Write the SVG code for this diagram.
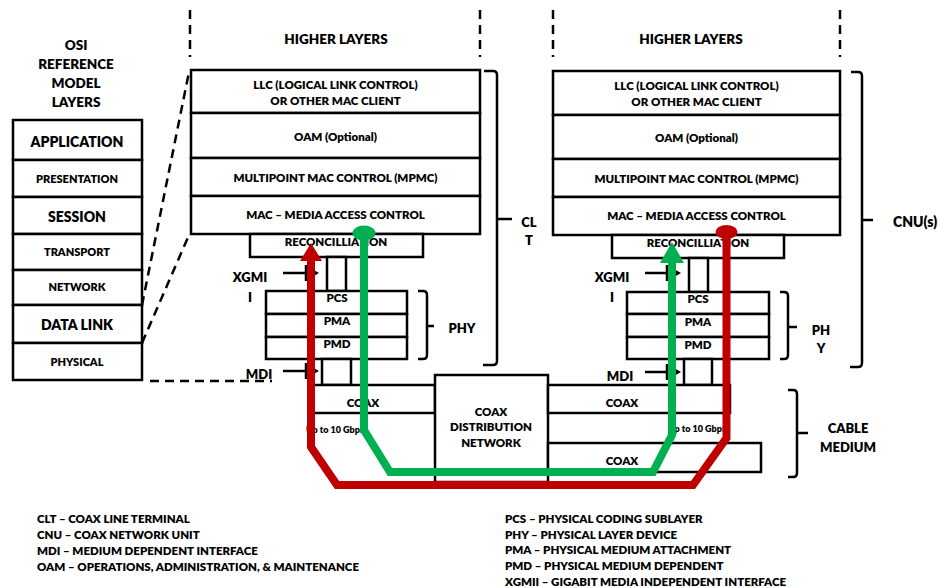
<svg xmlns="http://www.w3.org/2000/svg" width="940" height="588" viewBox="0 0 940 588">
<style>
.box{fill:#fff;stroke:#000;stroke-width:2.5}
.ln{fill:none;stroke:#000;stroke-width:2.5}
.dash{fill:none;stroke:#000;stroke-width:2.5;stroke-dasharray:9 6}
.t{font-family:Lato,"Liberation Sans",sans-serif;font-weight:800;fill:#000;text-anchor:middle}
.s{font-size:11.5px}
.b{font-size:14px}
.m{font-size:13px}
.h{font-size:13.5px}
.sm{font-size:11px}
.xs{font-size:9px}
.lg{font-family:Lato,"Liberation Sans",sans-serif;font-weight:800;font-size:11.5px;fill:#000}
.red{fill:none;stroke:#C00000;stroke-width:8;stroke-linejoin:miter}
.grn{fill:none;stroke:#00B050;stroke-width:8;stroke-linejoin:miter}
</style>
<defs>
<marker id="arR" markerUnits="userSpaceOnUse" viewBox="0 -12 20 24" refX="1" refY="0" markerWidth="20" markerHeight="24" orient="auto"><path d="M0,-11 L18,0 L0,11 Z" fill="#C00000"/></marker>
<marker id="arG" markerUnits="userSpaceOnUse" viewBox="0 -13 22 26" refX="1" refY="0" markerWidth="22" markerHeight="26" orient="auto"><path d="M0,-12 L21,0 L0,12 Z" fill="#00B050"/></marker>
<marker id="dotR" markerUnits="userSpaceOnUse" viewBox="-12 -8 24 16" refX="0" refY="0" markerWidth="24" markerHeight="16" orient="0"><ellipse cx="0" cy="0" rx="11" ry="7" fill="#C00000"/></marker>
<marker id="dotG" markerUnits="userSpaceOnUse" viewBox="-12 -8 24 16" refX="0" refY="0" markerWidth="24" markerHeight="16" orient="0"><ellipse cx="0" cy="0" rx="11.5" ry="7.5" fill="#00B050"/></marker>
<marker id="tick" markerUnits="userSpaceOnUse" viewBox="0 -4 8 8" refX="0" refY="0" markerWidth="8" markerHeight="8" orient="auto"><path d="M0,-4 L7,0 L0,4 Z" fill="#000"/></marker>
</defs>

<!-- OSI reference model -->
<g id="osi-title">
<text class="t h" x="76" y="50">OSI</text>
<text class="t h" x="76" y="69">REFERENCE</text>
<text class="t h" x="76" y="88">MODEL</text>
<text class="t h" x="76" y="107">LAYERS</text>
</g>
<g id="osi-application"><rect class="box" x="13" y="120" width="129" height="40"/><text class="t b" x="77" y="147">APPLICATION</text></g>
<g id="osi-presentation"><rect class="box" x="13" y="160" width="129" height="37"/><text class="t sm" x="77" y="183">PRESENTATION</text></g>
<g id="osi-session"><rect class="box" x="13" y="197" width="129" height="37"/><text class="t b" x="77" y="222">SESSION</text></g>
<g id="osi-transport"><rect class="box" x="13" y="234" width="129" height="36"/><text class="t sm" x="77" y="256">TRANSPORT</text></g>
<g id="osi-network"><rect class="box" x="13" y="270" width="129" height="35"/><text class="t sm" x="77" y="291">NETWORK</text></g>
<g id="osi-datalink"><rect class="box" x="13" y="305" width="129" height="38"/><text class="t b" x="77" y="330">DATA LINK</text></g>
<g id="osi-physical"><rect class="box" x="13" y="343" width="129" height="37"/><text class="t sm" x="77" y="366">PHYSICAL</text></g>

<!-- dashed guides -->
<g id="guides">
<path class="dash" d="M190,10 V57"/>
<path class="dash" d="M480,10 V57"/>
<path class="dash" d="M553,10 V57"/>
<path class="dash" d="M840,10 V57"/>
<path class="dash" d="M142,305 L189,72"/>
<path class="dash" d="M142,343 L189,235"/>
<path class="dash" d="M150,381 H272"/>
</g>

<!-- CLT stack -->
<g id="clt-higher"><text class="t h" x="336" y="44">HIGHER LAYERS</text></g>
<g id="clt-llc"><rect class="box" x="191" y="70" width="289" height="43"/><text class="t s" x="335.5" y="89">LLC (LOGICAL LINK CONTROL)</text><text class="t s" x="335.5" y="105">OR OTHER MAC CLIENT</text></g>
<g id="clt-oam"><rect class="box" x="191" y="113" width="289" height="45"/><text class="t s" x="335.5" y="141">OAM (Optional)</text></g>
<g id="clt-mpmc"><rect class="box" x="191" y="158" width="289" height="38"/><text class="t s" x="335.5" y="182">MULTIPOINT MAC CONTROL (MPMC)</text></g>
<g id="clt-mac"><rect class="box" x="191" y="196" width="289" height="38"/><text class="t s" x="335.5" y="219">MAC – MEDIA ACCESS CONTROL</text></g>
<g id="clt-rec"><rect class="box" x="250" y="234" width="173" height="23"/><text class="t s" x="336" y="246">RECONCILLIATION</text></g>
<g id="clt-xgmii"><rect class="box" x="327" y="257" width="19" height="34"/>
<text class="t m" x="250" y="282">XGMI</text><text class="t m" x="250" y="302">I</text>
<path class="ln" d="M283,273 H312" marker-end="url(#tick)"/><path class="ln" d="M306,265 V281"/></g>
<g id="clt-pcs"><rect class="box" x="266" y="291" width="141" height="23"/><text class="t s" x="337" y="302">PCS</text></g>
<g id="clt-pma"><rect class="box" x="266" y="314" width="141" height="23"/><text class="t s" x="337" y="325">PMA</text></g>
<g id="clt-pmd"><rect class="box" x="266" y="337" width="141" height="22"/><text class="t s" x="337" y="348">PMD</text></g>
<g id="clt-mdi"><rect class="box" x="322" y="359" width="29" height="26"/>
<text class="t m" x="259" y="379">MDI</text>
<path class="ln" d="M283,371 H312" marker-end="url(#tick)"/><path class="ln" d="M306,363 V379"/></g>
<g id="clt-phy-brace"><path class="ln" d="M418,291 H423 Q427,291 427,295 V355 Q427,359 423,359 H418 M427,326 H434"/><text class="t m" x="462" y="333">PHY</text></g>
<g id="clt-brace"><path class="ln" d="M484,71 H493 Q497,71 497,75 V361 Q497,365 493,365 H483 M497,219 H512"/><text class="t m" x="529" y="227">CL</text><text class="t m" x="529" y="245">T</text></g>

<!-- CNU stack -->
<g id="cnu-higher"><text class="t h" x="691" y="44">HIGHER LAYERS</text></g>
<g id="cnu-llc"><rect class="box" x="553" y="71" width="287" height="44"/><text class="t s" x="696.5" y="90">LLC (LOGICAL LINK CONTROL)</text><text class="t s" x="696.5" y="106">OR OTHER MAC CLIENT</text></g>
<g id="cnu-oam"><rect class="box" x="553" y="115" width="287" height="44"/><text class="t s" x="696.5" y="142">OAM (Optional)</text></g>
<g id="cnu-mpmc"><rect class="box" x="553" y="159" width="287" height="38"/><text class="t s" x="696.5" y="183">MULTIPOINT MAC CONTROL (MPMC)</text></g>
<g id="cnu-mac"><rect class="box" x="553" y="197" width="287" height="38"/><text class="t s" x="696.5" y="220">MAC – MEDIA ACCESS CONTROL</text></g>
<g id="cnu-rec"><rect class="box" x="612" y="235" width="172" height="23"/><text class="t s" x="698" y="247">RECONCILLIATION</text></g>
<g id="cnu-xgmii"><rect class="box" x="689" y="258" width="19" height="34"/>
<text class="t m" x="612" y="282">XGMI</text><text class="t m" x="612" y="302">I</text>
<path class="ln" d="M645,273 H674" marker-end="url(#tick)"/><path class="ln" d="M667,265 V281"/></g>
<g id="cnu-pcs"><rect class="box" x="627" y="292" width="142" height="22"/><text class="t s" x="698" y="303">PCS</text></g>
<g id="cnu-pma"><rect class="box" x="627" y="314" width="142" height="23"/><text class="t s" x="698" y="326">PMA</text></g>
<g id="cnu-pmd"><rect class="box" x="627" y="337" width="142" height="22"/><text class="t s" x="698" y="349">PMD</text></g>
<g id="cnu-mdi"><rect class="box" x="684" y="359" width="28" height="26"/>
<text class="t m" x="620" y="381">MDI</text>
<path class="ln" d="M645,372 H674" marker-end="url(#tick)"/><path class="ln" d="M667,364 V380"/></g>
<g id="cnu-phy-brace"><path class="ln" d="M780,292 H784 Q788,292 788,296 V355 Q788,359 784,359 H780 M788,327 H797"/><text class="t m" x="821" y="335">PH</text><text class="t m" x="821" y="353">Y</text></g>
<g id="cnu-brace"><path class="ln" d="M851,72 H858 Q862,72 862,76 V363 Q862,367 858,367 H850 M862,220 H873"/><text class="t m" x="893" y="227" style="text-anchor:start;font-size:14px">CNU(s)</text></g>

<!-- cable medium -->
<g id="coax-left"><rect class="box" x="311" y="385" width="124" height="28"/><text class="t s" x="363" y="407">COAX</text><text class="t xs" x="335" y="433">Up to 10 Gbps</text></g>
<g id="coax-network"><rect class="box" x="435" y="375" width="113" height="107"/><text class="t s" x="491" y="416">COAX</text><text class="t s" x="491" y="431">DISTRIBUTION</text><text class="t s" x="491" y="447">NETWORK</text></g>
<g id="coax-right-up"><rect class="box" x="548" y="385" width="182" height="28"/><text class="t s" x="622" y="407">COAX</text><text class="t xs" x="697" y="432">Up to 10 Gbps</text></g>
<g id="coax-right-down"><rect class="box" x="548" y="443" width="213" height="29"/><text class="t s" x="622" y="465">COAX</text></g>
<g id="cable-brace"><path class="ln" d="M788,390 H793 Q797,390 797,394 V473 Q797,477 793,477 H788 M797,433 H808"/><text class="t m" x="848" y="433">CABLE</text><text class="t m" x="848" y="452">MEDIUM</text></g>

<!-- data path connectors -->
<g id="connectors">
<path class="red" d="M726.5,232 V438 L693,485 H337 L311,447 V260" marker-start="url(#dotR)" marker-end="url(#arR)"/>
<path class="grn" d="M364,233 V430 L390,472 H653 L672,435 V262" marker-start="url(#dotG)" marker-end="url(#arG)"/>
</g>

<!-- legend -->
<g id="legend-left">
<text class="lg" x="37" y="523">CLT – COAX LINE TERMINAL</text>
<text class="lg" x="37" y="539">CNU – COAX NETWORK UNIT</text>
<text class="lg" x="37" y="555">MDI – MEDIUM DEPENDENT INTERFACE</text>
<text class="lg" x="37" y="571">OAM – OPERATIONS, ADMINISTRATION, &amp; MAINTENANCE</text>
</g>
<g id="legend-right">
<text class="lg" x="505" y="523">PCS – PHYSICAL CODING SUBLAYER</text>
<text class="lg" x="505" y="539">PHY – PHYSICAL LAYER DEVICE</text>
<text class="lg" x="505" y="554">PMA – PHYSICAL MEDIUM ATTACHMENT</text>
<text class="lg" x="505" y="570">PMD – PHYSICAL MEDIUM DEPENDENT</text>
<text class="lg" x="505" y="586">XGMII – GIGABIT MEDIA INDEPENDENT INTERFACE</text>
</g>
</svg>
